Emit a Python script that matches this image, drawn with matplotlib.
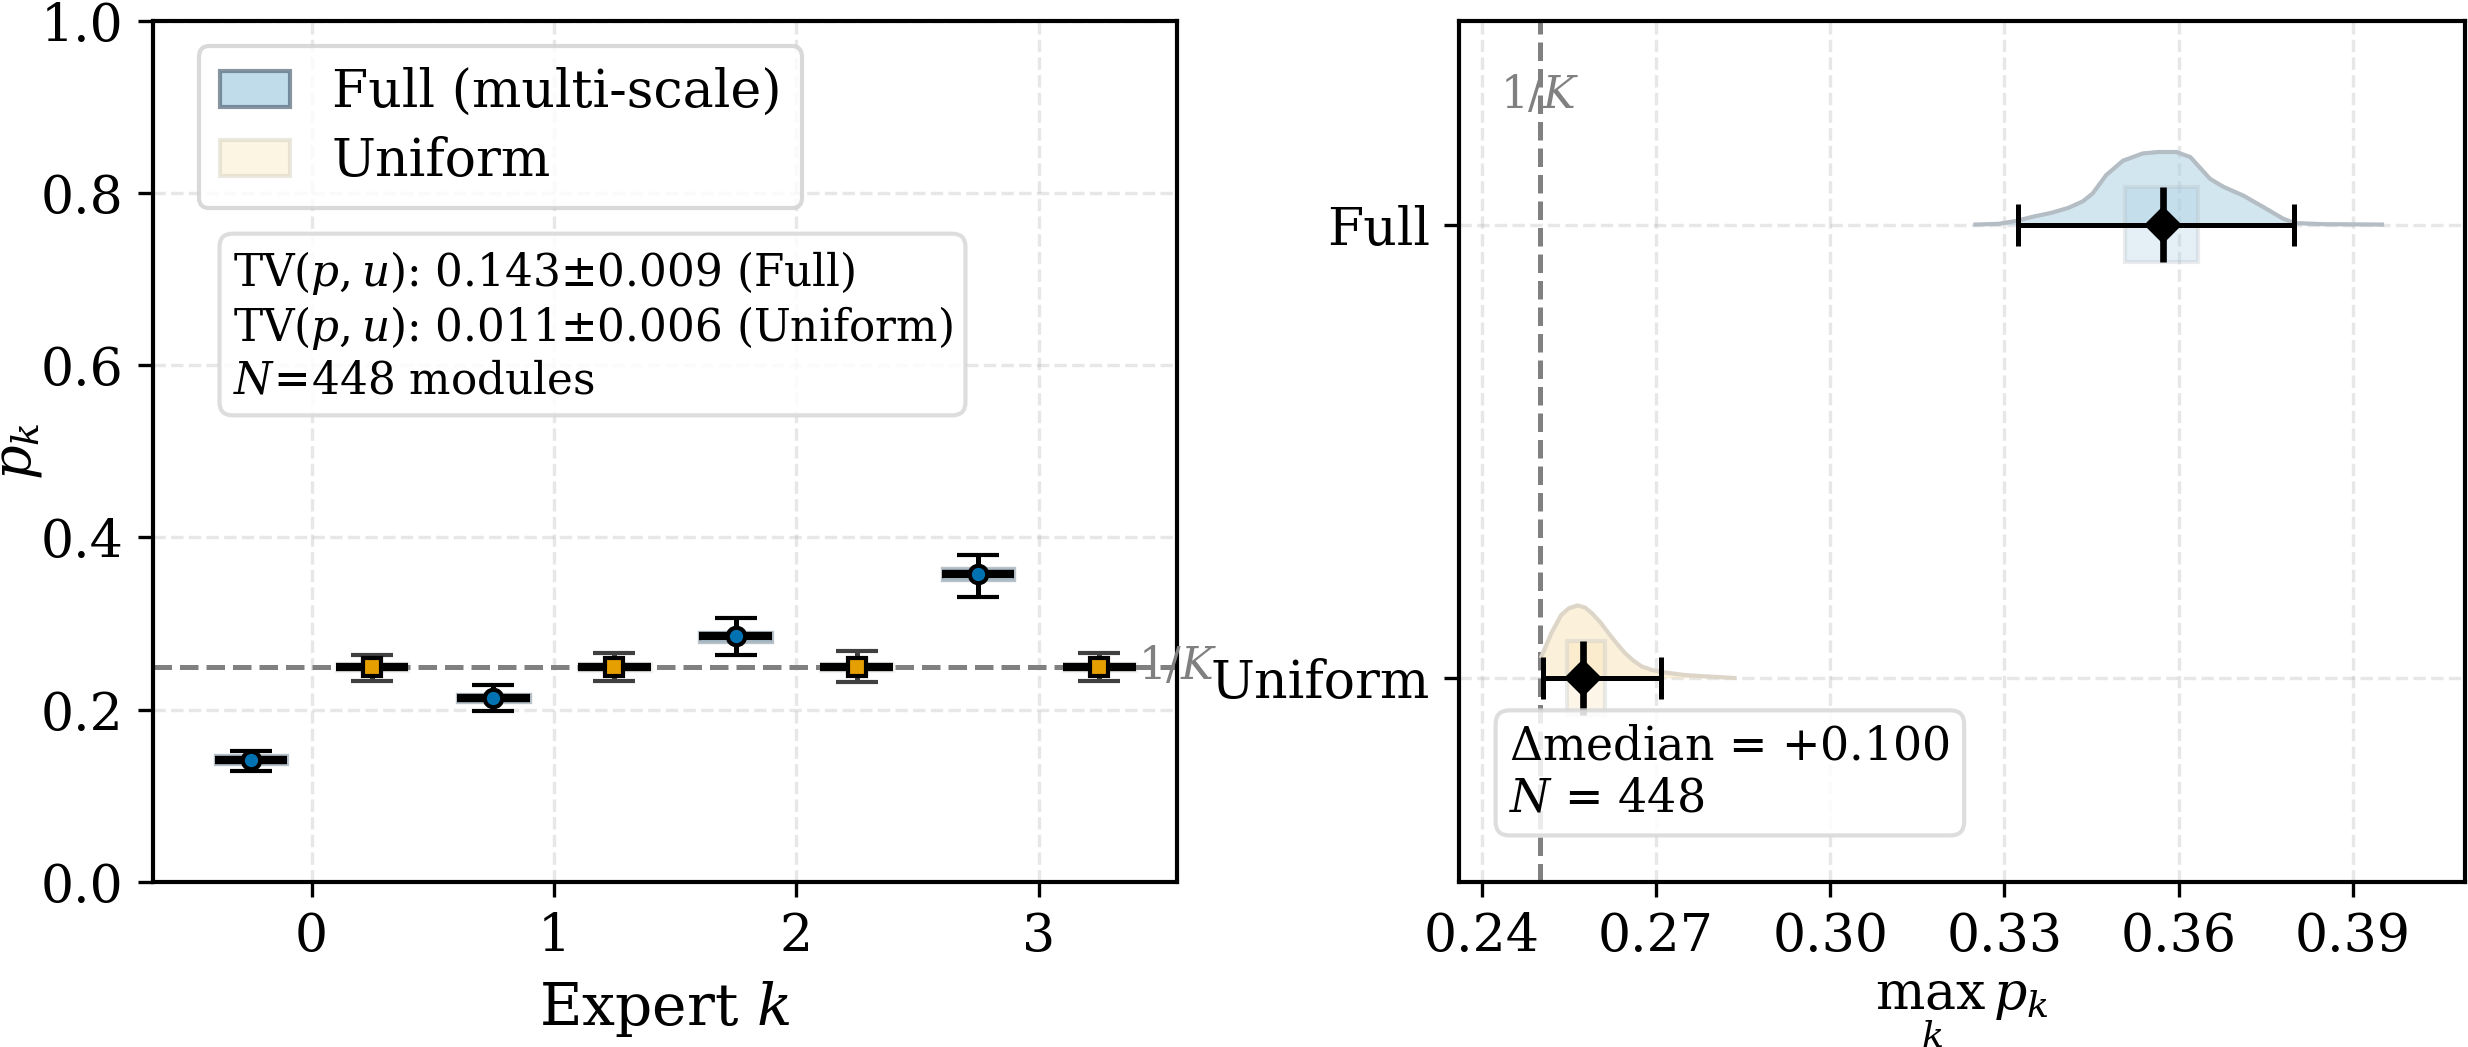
import numpy as np
import matplotlib
matplotlib.use("Agg")
import matplotlib.pyplot as plt
from matplotlib.patches import Patch

plt.rcParams["font.family"] = "DejaVu Serif"
plt.rcParams["mathtext.fontset"] = "dejavuserif"

# left panel: per-expert routing probability p_k
experts = [0, 1, 2, 3]
full_med = [0.142, 0.213, 0.285, 0.357]
full_lo = [0.129, 0.198, 0.264, 0.331]
full_hi = [0.152, 0.229, 0.306, 0.379]
full_q1 = [0.137, 0.209, 0.279, 0.350]
full_q3 = [0.147, 0.218, 0.290, 0.364]
unif_med = [0.250, 0.250, 0.250, 0.250]
unif_lo = [0.233, 0.233, 0.232, 0.233]
unif_hi = [0.264, 0.266, 0.268, 0.266]
unif_q1 = [0.245, 0.245, 0.245, 0.245]
unif_q3 = [0.254, 0.254, 0.254, 0.254]

# right panel: max_k p_k per module
groups = ["Uniform", "Full"]
max_med = [0.2575, 0.3573]
max_lo = [0.2506, 0.3324]
max_hi = [0.2709, 0.3799]
max_q1 = [0.2546, 0.3507]
max_q3 = [0.2612, 0.3634]

# density outline (relative height)
full_grid = [0.3250, 0.3290, 0.3320, 0.3350, 0.3380, 0.3410, 0.3435, 0.3452, 0.3475, 0.3504, 0.3538,
             0.3565, 0.3596, 0.3620, 0.3654, 0.3677, 0.3711, 0.3746, 0.3780, 0.3800, 0.3850, 0.3950]
full_dens = [0.00, 0.01, 0.05, 0.11, 0.16, 0.23, 0.32, 0.43, 0.68, 0.88, 0.98,
             1.00, 1.00, 0.93, 0.63, 0.52, 0.40, 0.24, 0.08, 0.02, 0.005, 0.0]
unif_grid = [0.2503, 0.2520, 0.2537, 0.2550, 0.2565, 0.2578, 0.2590, 0.2605, 0.2618,
             0.2633, 0.2647, 0.2661, 0.2675, 0.2693, 0.2711, 0.2750, 0.2790, 0.2835]
unif_dens = [0.30, 0.62, 0.87, 0.96, 1.00, 0.97, 0.89, 0.76, 0.62,
             0.47, 0.34, 0.24, 0.16, 0.11, 0.08, 0.04, 0.02, 0.0]

c_full = "#0072B2"
c_unif = "#E69F00"
c_full_light = "#a6cee3"
c_unif_light = "#f9e3b4"

fig = plt.figure(figsize=(2468 / 300, 1047 / 300), dpi=300)
ax1 = fig.add_axes([0.0619, 0.1576, 0.4149, 0.8228])
ax2 = fig.add_axes([0.5912, 0.1576, 0.4076, 0.8228])

# ---- left ----
x = np.array(experts)
xf = x - 0.25
xu = x + 0.25
ax1.bar(xf, np.subtract(full_q3, full_q1), bottom=full_q1, width=0.3,
        color=c_full_light, alpha=0.6, edgecolor="#8c9aa5", lw=0.8, zorder=2)
ax1.bar(xu, np.subtract(unif_q3, unif_q1), bottom=unif_q1, width=0.3,
        color=c_unif_light, alpha=0.4, edgecolor="#dddddd", lw=0.8, zorder=2)
ax1.hlines(full_med, xf - 0.15, xf + 0.15, color="k", lw=2, zorder=3)
ax1.hlines(unif_med, xu - 0.15, xu + 0.15, color="k", lw=2, zorder=3)
ax1.axhline(0.25, color="gray", ls="--", lw=1.2, zorder=2.5)
ax1.errorbar(xf, full_med, yerr=[np.subtract(full_med, full_lo), np.subtract(full_hi, full_med)],
             fmt="o", color=c_full, mec="k", mew=1, ms=4.2, ecolor="k",
             elinewidth=1.2, capsize=5, capthick=1.2, zorder=4)
ax1.errorbar(xu, unif_med, yerr=[np.subtract(unif_med, unif_lo), np.subtract(unif_hi, unif_med)],
             fmt="s", color=c_unif, mec="k", mew=1, ms=4.5, ecolor="0.25",
             elinewidth=1.2, capsize=5, capthick=1.2, zorder=4)
ax1.text(3.41, 0.25, "$1/K$", color="gray", ha="left", va="center", fontsize=10.5)

ax1.set_xlim(-0.655, 3.57)
ax1.set_ylim(0, 1.0)
ax1.set_xticks(experts)
ax1.set_xlabel("Expert $k$", fontsize=14)
ax1.set_ylabel("$p_k$", fontsize=13)
ax1.yaxis.set_label_coords(-0.106, 0.5)
ax1.tick_params(labelsize=12.5)
ax1.grid(True, ls="--", alpha=0.3)
ax1.set_axisbelow(True)

handles = [Patch(facecolor=c_full_light, alpha=0.7, edgecolor="#55697a", label="Full (multi-scale)"),
           Patch(facecolor=c_unif_light, alpha=0.35, edgecolor="#c8bfae", label="Uniform")]
leg = ax1.legend(handles=handles, loc="upper left", bbox_to_anchor=(0.045, 0.97),
                 borderaxespad=0, fontsize=12.5, handlelength=1.35, labelspacing=0.35)
leg.get_frame().set_edgecolor("#d0d0d0")

ax1.text(0.078, 0.735,
         "TV$(p,u)$: 0.143$\\pm$0.009 (Full)\nTV$(p,u)$: 0.011$\\pm$0.006 (Uniform)\n$N\\!=\\!448$ modules",
         transform=ax1.transAxes, ha="left", va="top", fontsize=10.5,
         bbox=dict(boxstyle="round,pad=0.3", facecolor="white", edgecolor="#d8d8d8", alpha=0.85))

# ---- right ----
ypos = [0, 1]
grids = [unif_grid, full_grid]
dens = [unif_dens, full_dens]
lights = [c_unif_light, c_full_light]
edges = ["#ddd6c8", "#b4bcc4"]
vscale = 0.16
box_h = 0.165
for i, y in enumerate(ypos):
    ax2.fill_between(grids[i], y, y + np.array(dens[i]) * vscale, color=lights[i], alpha=0.5, lw=0, zorder=2)
    ax2.plot(grids[i], y + np.array(dens[i]) * vscale, color=edges[i], lw=1, zorder=2)
    ax2.barh(y, max_q3[i] - max_q1[i], left=max_q1[i], height=box_h,
             color=lights[i], alpha=0.3, edgecolor="#b8c0c6", lw=1, zorder=2.5)
    ax2.vlines(max_med[i], y - box_h / 2, y + box_h / 2, color="k", lw=1.6, zorder=3)
    ax2.errorbar(max_med[i], y, xerr=[[max_med[i] - max_lo[i]], [max_hi[i] - max_med[i]]],
                 fmt="D", color="k", ms=5.5, ecolor="k", elinewidth=1.2,
                 capsize=5, capthick=1.2, zorder=4)

ax2.axvline(0.25, color="gray", ls="--", lw=1.2, zorder=1.5)
ax2.text(0.25, 1.285, "$1/K$", color="gray", ha="center", va="center", fontsize=10.5)
ax2.text(0.05, 0.07, "$\\Delta$median = +0.100\n$N$ = 448", transform=ax2.transAxes,
         ha="left", va="bottom", fontsize=11, family="DejaVu Serif",
         bbox=dict(boxstyle="round,pad=0.3", facecolor="white", edgecolor="#d8d8d8", alpha=0.85))

ax2.set_xlim(0.2361, 0.4093)
ax2.set_ylim(-0.45, 1.45)
ax2.set_yticks(ypos)
ax2.set_yticklabels(groups)
ax2.set_xticks([0.24, 0.27, 0.30, 0.33, 0.36, 0.39])
ax2.set_xticklabels(["0.24", "0.27", "0.30", "0.33", "0.36", "0.39"])
ax2.set_xlabel("$\\max_k\\,p_k$", fontsize=12.5)
ax2.tick_params(labelsize=12.5)
ax2.grid(True, ls="--", alpha=0.3)
ax2.set_axisbelow(True)

for ax in (ax1, ax2):
    for s in ax.spines.values():
        s.set_linewidth(1.0)

fig.savefig("out.png", dpi=300)
